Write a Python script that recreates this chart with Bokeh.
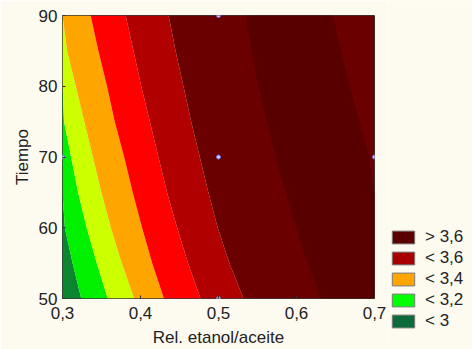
from bokeh.plotting import figure
from bokeh.layouts import row
from bokeh.models import Range1d, FixedTicker, CustomJSTickFormatter, Legend, LegendItem
from bokeh.embed import file_html
from bokeh.resources import INLINE

# ---- data (contour boundaries, x as function of Tiempo) ----
tiempo = [50, 55, 60, 65, 70, 75, 80, 85, 90]
rel_min = [0.3] * 9
rel_max = [0.7] * 9
b_30 = [0.324, 0.313, 0.303, 0.300, 0.300, 0.300, 0.300, 0.300, 0.300]
b_31 = [0.358, 0.344, 0.331, 0.320, 0.311, 0.302, 0.300, 0.300, 0.300]
b_32 = [0.392, 0.376, 0.362, 0.350, 0.339, 0.328, 0.317, 0.306, 0.300]
b_33 = [0.430, 0.415, 0.402, 0.390, 0.379, 0.367, 0.357, 0.346, 0.336]
b_34 = [0.477, 0.461, 0.447, 0.434, 0.423, 0.412, 0.401, 0.391, 0.381]
b_35 = [0.532, 0.514, 0.499, 0.487, 0.476, 0.465, 0.455, 0.445, 0.436]
b_36_left = [0.631, 0.614, 0.600, 0.586, 0.573, 0.562, 0.551, 0.542, 0.535]
b_36_right = [0.700, 0.700, 0.700, 0.700, 0.693, 0.681, 0.668, 0.657, 0.647]

design_rel = [0.3, 0.5, 0.5, 0.5, 0.7]
design_tiempo = [70, 50, 70, 90, 70]

x_ticks = [0.3, 0.4, 0.5, 0.6, 0.7]
y_ticks = [50, 60, 70, 80, 90]
legend_labels = ["> 3,6", "< 3,6", "< 3,4", "< 3,2", "< 3"]
legend_colors = ["#5a0000", "#a80000", "#ffa500", "#00ff00", "#0b6b3a"]

band_colors = ["#0b8530", "#00f000", "#ccff00", "#ffa500", "#ff0000",
               "#b00000", "#6a0000", "#580000"]

BG = "#fdfaf0"
FONT = "Liberation Sans"
NAN = float("nan")

p = figure(frame_width=312, frame_height=283, min_border_left=62, min_border_right=14,
           min_border_top=15, min_border_bottom=51,
           x_range=Range1d(0.3, 0.7), y_range=Range1d(50, 90),
           output_backend="svg", toolbar_location=None)
p.frame_align = False
p.background_fill_color = BG
p.border_fill_color = BG
p.outline_line_color = "#3a3a3a"
p.outline_line_width = 1
p.grid.visible = False

bounds = [(rel_min, b_30), (b_30, b_31), (b_31, b_32), (b_32, b_33),
          (b_33, b_34), (b_34, b_35), (b_35, rel_max), (b_36_left, b_36_right)]
for (x1, x2), c in zip(bounds, band_colors):
    p.harea(y=tiempo, x1=x1, x2=x2, fill_color=c)

p.scatter(design_rel, design_tiempo, size=4, fill_color="#d8d8ff", line_color="#7070ee",
          line_width=1)

for ax in (p.xaxis[0], p.yaxis[0]):
    ax.axis_line_color = None
    ax.major_tick_in = 3
    ax.major_tick_out = 0
    ax.major_tick_line_color = "#333333"
    ax.minor_tick_line_color = None
    ax.major_label_text_font = FONT
    ax.major_label_text_font_size = "17px"
    ax.major_label_text_color = "#222222"
    ax.axis_label_text_font = FONT
    ax.axis_label_text_font_size = "17px"
    ax.axis_label_text_font_style = "normal"
    ax.axis_label_text_color = "#222222"

p.xaxis.ticker = FixedTicker(ticks=x_ticks)
p.yaxis.ticker = FixedTicker(ticks=y_ticks)
p.xaxis.formatter = CustomJSTickFormatter(code="return tick.toFixed(1).replace('.', ',');")
p.yaxis.formatter = CustomJSTickFormatter(code="return tick.toFixed(0);")
p.xaxis.major_label_standoff = 8
p.yaxis.major_label_standoff = 5
p.xaxis.axis_label = "Rel. etanol/aceite"
p.yaxis.axis_label = "Tiempo"
p.xaxis.axis_label_standoff = 6
p.yaxis.axis_label_standoff = 4

# legend panel (separate small figure to the right)
lg = figure(width=84, height=349, min_border=0, x_axis_location=None, y_axis_location=None,
            x_range=Range1d(0, 1), y_range=Range1d(0, 1),
            output_backend="svg", toolbar_location=None)
lg.frame_align = False
lg.background_fill_color = BG
lg.border_fill_color = BG
lg.outline_line_color = None
lg.grid.visible = False
items = []
for lab, col in zip(legend_labels, legend_colors):
    r = lg.quad(left=[NAN], right=[NAN], top=[NAN], bottom=[NAN],
                fill_color=col, line_color="#7a7a7a", line_width=1)
    items.append(LegendItem(label=lab, renderers=[r]))
legend = Legend(items=items, location=(1, 18), orientation="vertical",
                glyph_width=28, glyph_height=16, label_height=17, spacing=1,
                label_standoff=8, padding=0, margin=0,
                border_line_color=None, background_fill_alpha=0,
                label_text_font=FONT, label_text_font_size="17px",
                label_text_color="#222222")
lg.add_layout(legend, "center")

layout = row(p, lg, spacing=0)
open("out.html", "w").write(file_html(layout, INLINE))
